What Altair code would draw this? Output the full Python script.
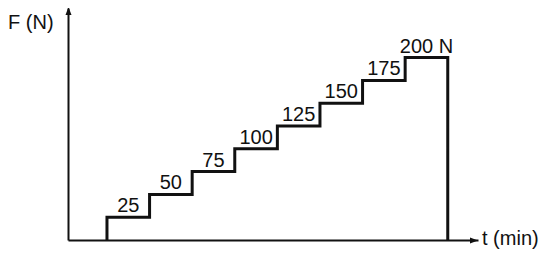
import altair as alt
import pandas as pd

# Data
step_starts = [1, 2, 3, 4, 5, 6, 7, 8]
step_end = 9
force_levels = [25, 50, 75, 100, 125, 150, 175, 200]
step_labels = ["25", "50", "75", "100", "125", "150", "175", "200 N"]

x_domain = [0.085, 9.71]
y_domain = [0, 254.4]

# Build step outline (step-after interpolation)
line_t = [step_starts[0]] + step_starts + [step_end, step_end]
line_f = [0] + force_levels + [force_levels[-1], 0]
line_df = pd.DataFrame({"t": line_t, "F": line_f, "i": list(range(len(line_t)))})

label_df = pd.DataFrame({
    "t": [s + 0.5 for s in step_starts],
    "F": force_levels,
    "label": step_labels,
})

FONT = "Liberation Sans"
INK = "#111111"

xs = alt.Scale(domain=x_domain, nice=False, zero=False)
ys = alt.Scale(domain=y_domain, nice=False, zero=False)

x_axis = alt.Axis(labels=False, ticks=False, grid=False, title=None,
                  domainColor=INK, domainWidth=2)
y_axis = alt.Axis(labels=False, ticks=False, grid=False, title=None,
                  domainColor=INK, domainWidth=2)

steps = alt.Chart(line_df).mark_line(
    interpolate="step-after", color=INK, strokeWidth=3, strokeJoin="miter"
).encode(
    x=alt.X("t:Q", scale=xs, axis=x_axis),
    y=alt.Y("F:Q", scale=ys, axis=y_axis),
    order="i:Q",
)

labels = alt.Chart(label_df).mark_text(
    font=FONT, fontSize=20, color=INK, baseline="alphabetic", align="center", dy=-5
).encode(
    x=alt.X("t:Q", scale=xs),
    y=alt.Y("F:Q", scale=ys),
    text="label:N",
)

up_arrow = alt.Chart(pd.DataFrame({"a": [0]})).mark_point(
    shape="M0,0L-0.375,1L0.375,1Z", size=256, filled=True, color=INK, opacity=1
).encode(x=alt.value(0.5), y=alt.value(-1))

right_arrow = alt.Chart(pd.DataFrame({"a": [0]})).mark_point(
    shape="M0,0L-1,-0.375L-1,0.375Z", size=256, filled=True, color=INK, opacity=1
).encode(x=alt.value(410), y=alt.value(232.5))

y_title = alt.Chart(pd.DataFrame({"txt": ["F (N)"]})).mark_text(
    font=FONT, fontSize=20, color=INK, align="left", baseline="alphabetic"
).encode(x=alt.value(-60), y=alt.value(21), text="txt:N")

x_title = alt.Chart(pd.DataFrame({"txt": ["t (min)"]})).mark_text(
    font=FONT, fontSize=20, color=INK, align="left", baseline="alphabetic"
).encode(x=alt.value(414), y=alt.value(237), text="txt:N")

chart = alt.layer(steps, labels, up_arrow, right_arrow, y_title, x_title).properties(
    width=410,
    height=232,
    autosize=alt.AutoSizeParams(type="none"),
    padding={"left": 60, "top": 0, "right": 64, "bottom": 9},
    background="white",
).configure_view(stroke=None)

chart.save("out.html", embed_options={"renderer": "svg", "actions": False})
